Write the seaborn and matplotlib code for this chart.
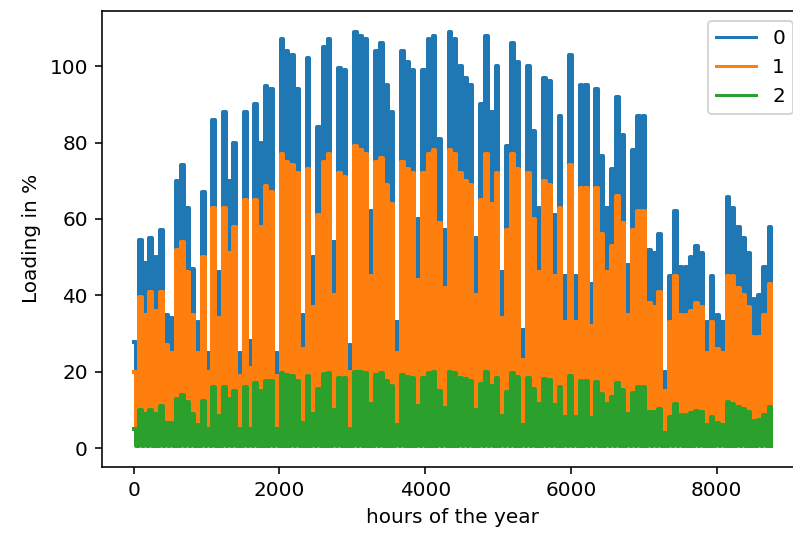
import numpy as np
import pandas as pd
import matplotlib
matplotlib.use("Agg")
import matplotlib.pyplot as plt
import seaborn as sns

# ---- data (envelope of daily peaks, one reading every 72 h) ----
sample_step_hours = 72
series_names = ["0", "1", "2"]

peaks_0 = [27.7, 54.6, 48.5, 55, 50, 57, 35, 34, 70, 74,
           63, 47, 33, 67, 25, 86, 46, 88, 70, 80,
           25, 88, 28, 90, 80, 94.7, 94, 25, 107, 104,
           103, 94, 35, 102, 50, 84, 105, 107, 54, 99.5,
           99, 27, 109, 108, 107, 62, 104, 106, 95, 88,
           33, 104, 101, 99, 60, 99, 107, 108, 81, 57,
           109, 107, 100, 97, 95, 55, 90, 108, 88, 100,
           46, 79, 106, 101, 31, 100, 83, 63, 97, 96,
           61, 87, 45, 103, 45, 95, 95, 43, 94, 76.5,
           63, 73, 92, 82, 48, 78, 87, 87, 52, 51,
           56, 20, 45, 62, 47.5, 47.5, 50, 53, 51, 33,
           45, 35, 33, 65.7, 63, 58, 55, 51, 39, 40,
           47.5, 58]

peaks_1 = [20, 39.6, 35, 41, 36, 41, 27, 25, 52, 54,
           46, 35, 25, 50, 20, 63, 34, 63, 51, 58,
           19, 65, 21, 65, 58, 68.6, 67, 19, 77, 75,
           74, 72, 26, 73, 37, 61, 75, 77, 40, 72,
           71, 20, 79, 78, 77, 45, 75, 76, 69, 64,
           25, 75, 73, 72, 44, 72, 77, 78, 59, 42,
           78, 77, 72, 70, 69, 40, 65, 77, 64, 72,
           34, 57, 77, 73, 23, 72, 60, 46, 70, 69,
           45, 63, 33, 74, 33, 68, 68, 32, 68, 56,
           46, 53, 66, 59, 35, 57, 62, 62, 38, 37,
           41, 15, 33, 45, 35, 35, 36, 38, 37, 25,
           33, 26, 25, 45, 45, 42, 40, 37, 29, 29,
           35, 43]

peaks_2 = [5, 10, 9, 10, 9, 11, 6.5, 6.5, 13, 14,
           12, 9, 6, 12.5, 5, 16, 8.5, 16, 13, 15,
           5, 16, 5, 17, 15, 17.5, 17.5, 5, 19.8, 19.3,
           19, 17.5, 6.5, 19, 9, 15.5, 19.5, 19.8, 10, 18.5,
           18.5, 5, 20, 20, 19.8, 11.5, 19.3, 19.6, 17.6, 16.3,
           6, 19.3, 18.7, 18.3, 11, 18.3, 19.8, 20, 15, 10.5,
           20, 19.8, 18.5, 18, 17.6, 10, 16.7, 20, 16.3, 18.5,
           8.5, 14.6, 19.6, 18.7, 6, 18.5, 15.4, 11.7, 18, 17.8,
           11.3, 16, 8.3, 19, 8.3, 17.6, 17.6, 8, 17.4, 14.2,
           11.7, 13.5, 17, 15.2, 9, 14.4, 16, 16, 9.6, 9.4,
           10.4, 4, 8.3, 11.5, 8.8, 8.8, 9.3, 9.8, 9.4, 6,
           8.3, 6.5, 6, 12, 11.7, 10.7, 10.2, 9.4, 7.2, 7.4,
           8.8, 10.7]

night_levels = [1.5, 1.0, 0.6]   # loading during the night troughs

x_label = "hours of the year"
y_label = "Loading in %"
colors = ["#1f77b4", "#ff7f0e", "#2ca02c"]

# ---- long-form table: each reading is a daytime peak followed by a night trough ----
rows = []
for name, peaks, night in zip(series_names, [peaks_0, peaks_1, peaks_2], night_levels):
    for i, p in enumerate(peaks):
        h = i * sample_step_hours
        rows.append((name, h, p))
        rows.append((name, h + sample_step_hours // 2, night))
df = pd.DataFrame(rows, columns=["series", "hour", "loading"])

# ---- figure ----
fig = plt.figure(figsize=(793 / 144, 537 / 144), dpi=144)
ax = fig.add_axes([0.1284, 0.1309, 0.8843, 0.8486])

sns.lineplot(data=df, x="hour", y="loading", hue="series", hue_order=series_names,
             palette=colors, estimator=None, sort=True, linewidth=2.0,
             drawstyle="steps-post", legend=False, ax=ax)

ax.set_xlabel(x_label)
ax.set_ylabel(y_label)

handles = ax.get_lines()[:3]
leg = ax.legend(handles, series_names, loc="upper right")
for line in leg.get_lines():
    line.set_linewidth(1.5)

fig.savefig("out.png", dpi=144)
